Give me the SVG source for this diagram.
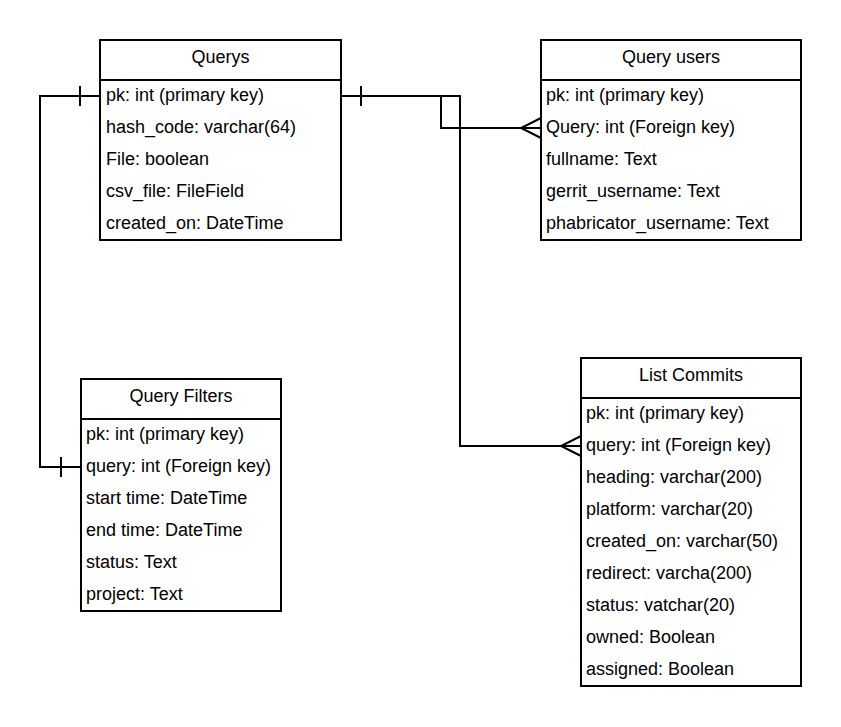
<svg xmlns="http://www.w3.org/2000/svg" width="841" height="727" viewBox="0 0 841 727">
<style>
.box{fill:#fff;stroke:#000;stroke-width:2}
.sep{stroke:#000;stroke-width:2}
.t{font-family:"Liberation Sans",Arial,sans-serif;font-size:18px;fill:#000}
.h{text-anchor:middle}
.c{fill:none;stroke:#000;stroke-width:2}
</style>
<rect width="841" height="727" fill="#fff"/>
<g id="connectors">
<path class="c" d="M100,96 H40 V467 H81"/>
<path class="c" d="M80,86 V106 M61,457 V477"/>
<path class="c" d="M341,96 H441 V128 H541"/>
<path class="c" d="M341,96 H460 V446 H581"/>
<path class="c" d="M361,86 V106"/>
<path class="c" d="M541,118 L521,128 L541,138"/>
<path class="c" d="M581,436 L561,446 L581,456"/>
</g>
<g id="querys">
<rect class="box" x="100" y="40" width="241" height="200"/>
<line class="sep" x1="100" y1="80" x2="341" y2="80"/>
<text class="t h" x="220.5" y="63">Querys</text>
<text class="t" x="106" y="100.5">pk: int (primary key)</text>
<text class="t" x="106" y="132.5">hash_code: varchar(64)</text>
<text class="t" x="106" y="164.5">File: boolean</text>
<text class="t" x="106" y="196.5">csv_file: FileField</text>
<text class="t" x="106" y="228.5">created_on: DateTime</text>
</g>
<g id="query-users">
<rect class="box" x="541" y="40" width="260" height="200"/>
<line class="sep" x1="541" y1="80" x2="801" y2="80"/>
<text class="t h" x="671" y="63">Query users</text>
<text class="t" x="546" y="100.5">pk: int (primary key)</text>
<text class="t" x="546" y="132.5">Query: int (Foreign key)</text>
<text class="t" x="546" y="164.5">fullname: Text</text>
<text class="t" x="546" y="196.5">gerrit_username: Text</text>
<text class="t" x="546" y="228.5">phabricator_username: Text</text>
</g>
<g id="query-filters">
<rect class="box" x="81" y="379" width="200" height="232"/>
<line class="sep" x1="81" y1="419" x2="281" y2="419"/>
<text class="t h" x="181" y="402">Query Filters</text>
<text class="t" x="86" y="439.5">pk: int (primary key)</text>
<text class="t" x="86" y="471.5">query: int (Foreign key)</text>
<text class="t" x="86" y="503.5">start time: DateTime</text>
<text class="t" x="86" y="535.5">end time: DateTime</text>
<text class="t" x="86" y="567.5">status: Text</text>
<text class="t" x="86" y="599.5">project: Text</text>
</g>
<g id="list-commits">
<rect class="box" x="581" y="358" width="220" height="328"/>
<line class="sep" x1="581" y1="398" x2="801" y2="398"/>
<text class="t h" x="691" y="381">List Commits</text>
<text class="t" x="586" y="418.5">pk: int (primary key)</text>
<text class="t" x="586" y="450.5">query: int (Foreign key)</text>
<text class="t" x="586" y="482.5">heading: varchar(200)</text>
<text class="t" x="586" y="514.5">platform: varchar(20)</text>
<text class="t" x="586" y="546.5">created_on: varchar(50)</text>
<text class="t" x="586" y="578.5">redirect: varcha(200)</text>
<text class="t" x="586" y="610.5">status: vatchar(20)</text>
<text class="t" x="586" y="642.5">owned: Boolean</text>
<text class="t" x="586" y="674.5">assigned: Boolean</text>
</g>
</svg>
